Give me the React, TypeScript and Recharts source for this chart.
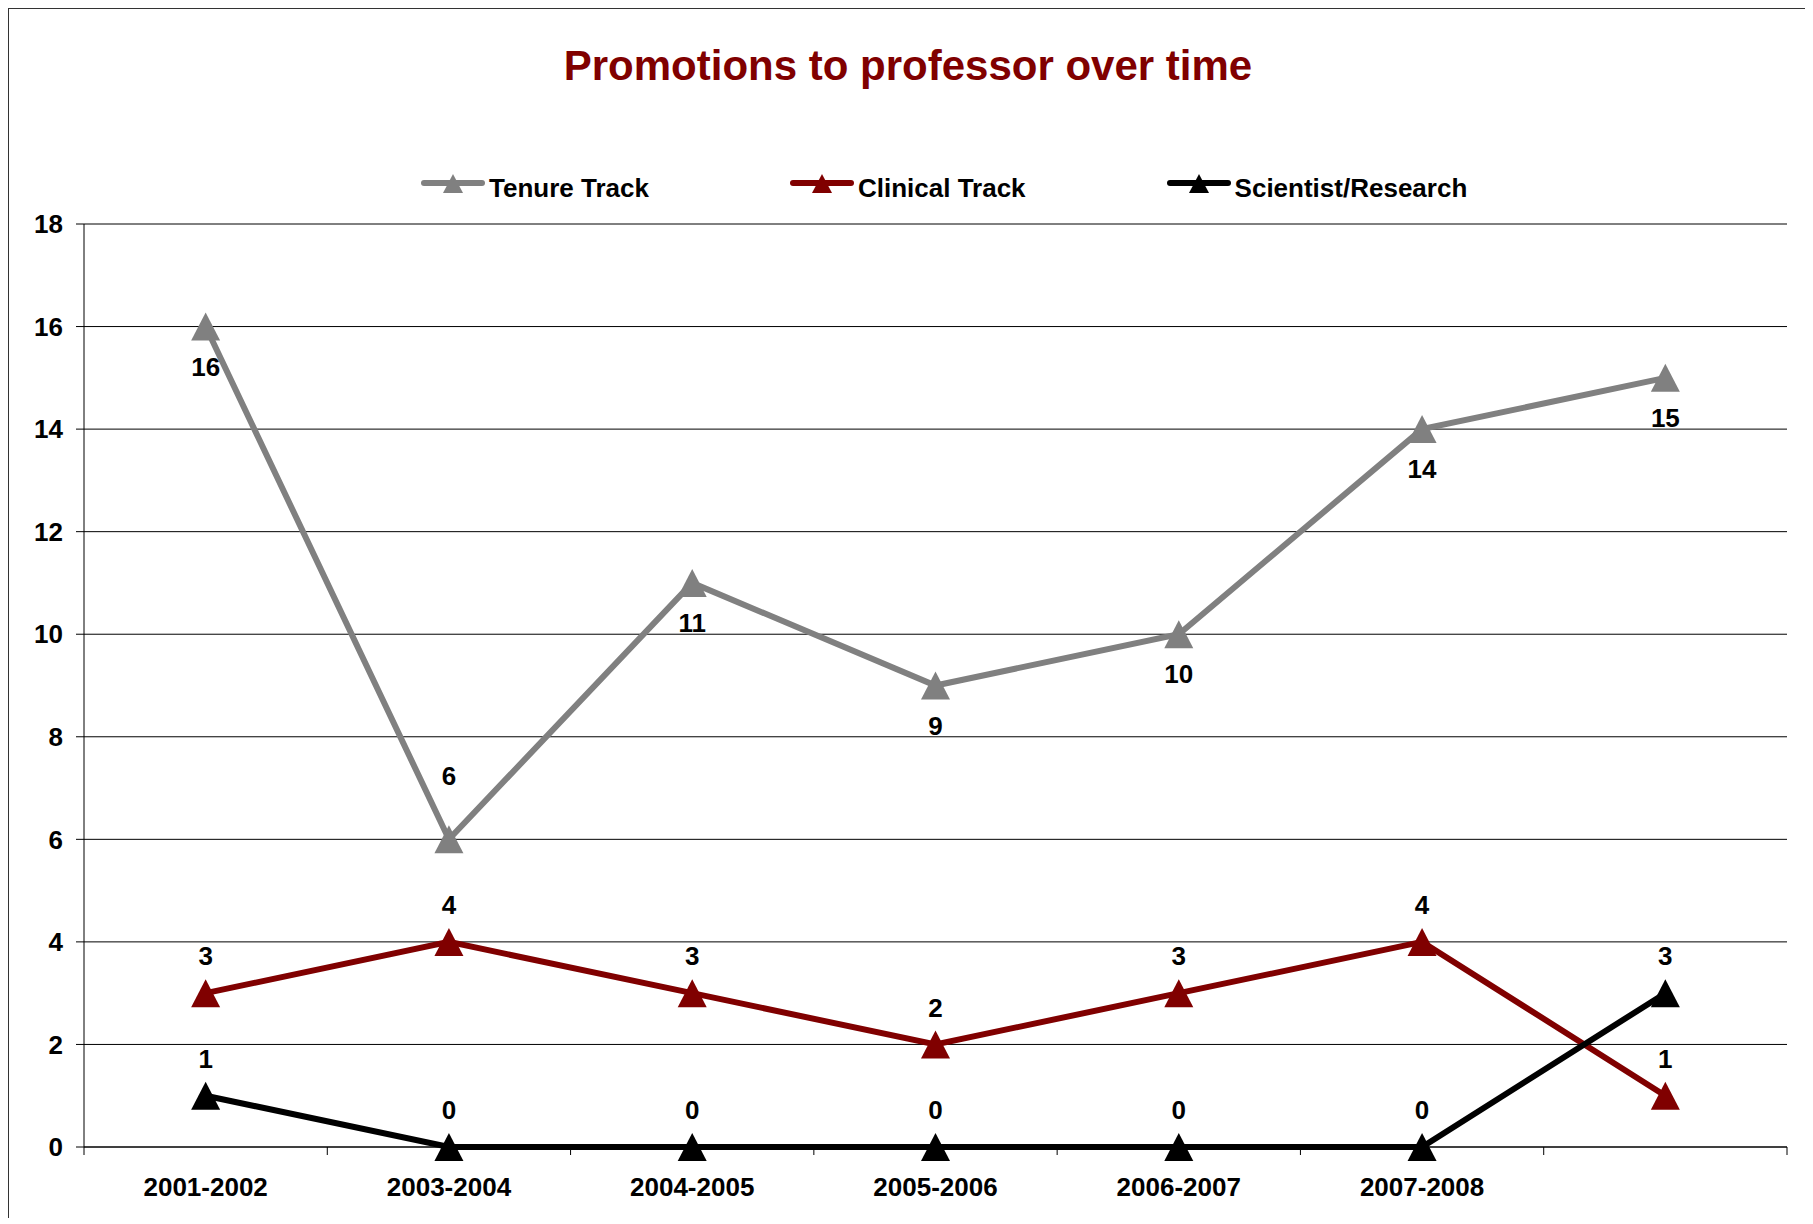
import { LineChart, Line, XAxis, YAxis, CartesianGrid, Legend, LabelList } from "recharts";

const periods = ["2001-2002", "2003-2004", "2004-2005", "2005-2006", "2006-2007", "2007-2008", ""];
const tenureTrack = [16, 6, 11, 9, 10, 14, 15];
const clinicalTrack = [3, 4, 3, 2, 3, 4, 1];
const scientistResearch = [1, 0, 0, 0, 0, 0, 3];
const yTicks = [0, 2, 4, 6, 8, 10, 12, 14, 16, 18];

const series = [
  { key: "tenure", name: "Tenure Track", color: "#808080" },
  { key: "clinical", name: "Clinical Track", color: "#800000" },
  { key: "scientist", name: "Scientist/Research", color: "#000000" },
];

const data = periods.map((period, i) => ({
  idx: i,
  period,
  tenure: tenureTrack[i],
  clinical: clinicalTrack[i],
  scientist: scientistResearch[i],
}));

// category boundaries get tick marks, category centres get labels
const xTicks = periods.flatMap((_, i) => [i - 0.5, i]).concat(periods.length - 0.5);

const FONT = "'Liberation Sans', Arial, sans-serif";

function PeriodTick({ x, y, payload }: any) {
  const v = payload.value as number;
  if (!Number.isInteger(v)) {
    return <line x1={x} y1={y} x2={x} y2={y + 8} stroke="#000" strokeWidth={1} />;
  }
  return (
    <text x={x} y={y + 40} dy="0.355em" textAnchor="middle" fontSize={26} fontWeight="bold" fill="#000" fontFamily={FONT}>
      {periods[v]}
    </text>
  );
}

const triangleDot = (color: string) => (props: any) => {
  const { cx, cy, index } = props;
  if (cx == null || cy == null) return <g key={index} />;
  return (
    <polygon
      key={index}
      points={`${cx},${cy - 14} ${cx - 14.5},${cy + 14} ${cx + 14.5},${cy + 14}`}
      fill={color}
    />
  );
};

const valueLabel = (where: (index: number) => "above" | "below" | "high") => (props: any) => {
  const { x, y, value, index } = props;
  const pos = where(index);
  const dy = pos === "below" ? 40 : pos === "high" ? -64 : -37;
  return (
    <text key={index} x={x} y={y + dy} dy="0.355em" textAnchor="middle" fontSize={26} fontWeight="bold" fill="#000" fontFamily={FONT}>
      {value}
    </text>
  );
};

function LegendContent() {
  return (
    <div style={{ display: "flex", gap: 141, alignItems: "center", fontFamily: FONT }}>
      {series.map((s) => (
        <div key={s.key} style={{ display: "flex", alignItems: "center" }}>
          <svg width={64} height={30} style={{ display: "block" }}>
            <line x1={3} y1={10} x2={61} y2={10} stroke={s.color} strokeWidth={6} strokeLinecap="round" />
            <polygon points="32,1 22,20 42,20" fill={s.color} />
          </svg>
          <span style={{ marginLeft: 4, fontSize: 26, fontWeight: "bold", lineHeight: "30px", color: "#000" }}>
            {s.name}
          </span>
        </div>
      ))}
    </div>
  );
}

export default function App() {
  return (
    <div style={{ position: "relative", width: 1800, height: 1210, fontFamily: FONT, background: "#fff" }}>
      <div
        style={{
          position: "absolute",
          left: -1,
          top: -1,
          width: 1802,
          height: 1217,
          borderTop: "2px solid #333",
          borderLeft: "2px solid #333",
          borderRight: "2px solid #333",
          boxSizing: "border-box",
          pointerEvents: "none",
        }}
      />
      <div
        style={{
          position: "absolute",
          top: 37,
          left: 0,
          width: "100%",
          textAlign: "center",
          fontSize: 42,
          fontWeight: "bold",
          lineHeight: "42px",
          color: "#800000",
        }}
      >
        Promotions to professor over time
      </div>
      <LineChart width={1800} height={1210} data={data} margin={{ top: 216, right: 21, left: 0, bottom: 0 }}>
        <CartesianGrid horizontal vertical={false} stroke="#000" strokeWidth={1} />
        <XAxis
          dataKey="idx"
          type="number"
          domain={[-0.5, periods.length - 0.5]}
          ticks={xTicks}
          interval={0}
          height={71}
          tickSize={0}
          tickMargin={0}
          tickLine={false}
          axisLine={{ stroke: "#000" }}
          tick={<PeriodTick />}
        />
        <YAxis
          type="number"
          domain={[0, 18]}
          ticks={yTicks}
          width={76}
          tickSize={8}
          tickMargin={13}
          axisLine={{ stroke: "#000" }}
          tickLine={{ stroke: "#000" }}
          tick={{ fill: "#000", fontSize: 26, fontWeight: "bold", fontFamily: FONT }}
        />
        <Legend verticalAlign="middle" align="center" layout="horizontal" content={<LegendContent />} wrapperStyle={{ top: 165, left: 413, width: 1300 }} />
        <Line
          dataKey="tenure"
          name="Tenure Track"
          stroke="#808080"
          strokeWidth={6}
          dot={triangleDot("#808080")}
          activeDot={false}
          isAnimationActive={false}
        >
          <LabelList dataKey="tenure" content={valueLabel((i) => (i === 1 ? "high" : "below"))} />
        </Line>
        <Line
          dataKey="clinical"
          name="Clinical Track"
          stroke="#800000"
          strokeWidth={6}
          dot={triangleDot("#800000")}
          activeDot={false}
          isAnimationActive={false}
        >
          <LabelList dataKey="clinical" content={valueLabel(() => "above")} />
        </Line>
        <Line
          dataKey="scientist"
          name="Scientist/Research"
          stroke="#000000"
          strokeWidth={6}
          dot={triangleDot("#000000")}
          activeDot={false}
          isAnimationActive={false}
        >
          <LabelList dataKey="scientist" content={valueLabel(() => "above")} />
        </Line>
      </LineChart>
    </div>
  );
}
